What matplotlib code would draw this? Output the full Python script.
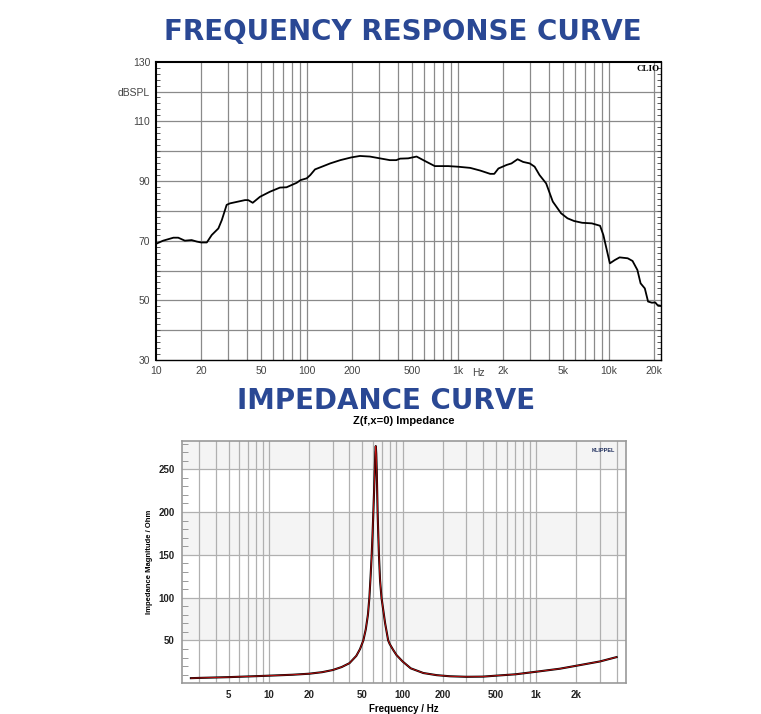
import numpy as np
import matplotlib
matplotlib.use("Agg")
import matplotlib.pyplot as plt
from matplotlib.transforms import blended_transform_factory

plt.rcParams['font.family'] = ['Liberation Sans', 'DejaVu Sans']

# frequency response (CLIO)
fr_freq = [10, 11.2, 13.1, 14.1, 15.6, 17.3, 18.7, 20, 21.8, 23.5, 26, 27.4, 29.5, 31,
           34.4, 39, 41, 43.9, 49, 57, 66.5, 73.5, 85.8, 91, 100, 105.6, 113.5, 129,
           143, 167, 197, 225, 262, 305, 355, 392, 415, 470, 534, 562, 607, 705, 865,
           1000, 1210, 1410, 1640, 1745, 1860, 2110, 2270, 2490, 2710, 3000, 3230,
           3480, 3850, 4260, 4830, 5330, 5890, 6660, 7730, 8760, 9210, 10170, 10960,
           11800, 13350, 14370, 15470, 16250, 17330, 18210, 19320, 20310, 21030, 22000]
fr_spl = [68.9, 70, 71, 71, 70, 70.2, 69.7, 69.4, 69.4, 71.9, 74.1, 76.9, 82, 82.5,
          83, 83.6, 83.6, 82.7, 84.7, 86.4, 87.8, 87.9, 89.4, 90.3, 90.9, 92, 93.9, 95,
          95.9, 97, 97.9, 98.4, 98.2, 97.6, 97, 97, 97.5, 97.6, 98.2, 97.6, 96.7, 95, 95,
          94.8, 94.4, 93.5, 92.4, 92.4, 94.2, 95.4, 95.9, 97.3, 96.4, 95.9, 94.8,
          92, 89.2, 83.1, 79.2, 77.5, 76.6, 76, 75.8, 75, 71.9, 62.4, 63.5,
          64.4, 64.1, 63.2, 60.2, 55.7, 54, 49.6, 49.2, 49.3, 48.4, 48.2]

fr_xticks = [10, 20, 50, 100, 200, 500, 1000, 2000, 5000, 10000, 20000]
fr_xlabels = ['10', '20', '50', '100', '200', '500', '1k', '2k', '5k', '10k', '20k']
fr_yticks = [30, 50, 70, 90, 110, 120, 130]
fr_ylabels = ['30', '50', '70', '90', '110', 'dBSPL', '130']

# impedance (Klippel)
z_freq = [2.6, 3, 4, 5, 7, 10, 15, 20, 25, 30, 35, 40, 45, 48, 50.8, 53, 55, 56.4,
          57.6, 58.7, 59.6, 60.4, 61.2, 61.9, 62.5, 63, 63.5, 64, 64.5, 65, 65.7,
          66.5, 67.8, 69.5, 74, 78, 80, 85, 90, 100, 115, 143, 180, 226, 300, 400,
          500, 700, 1000, 1500, 2000, 3000, 4000]
z_mag = [6.0, 6.3, 6.8, 7.2, 8.0, 8.9, 10.0, 11.2, 13.0, 15.5, 19.0, 23.5, 32, 40,
         50, 63, 80, 100, 125, 150, 175, 200, 225, 250, 270, 277, 268, 250, 225, 200,
         175, 150, 120, 100, 70, 50, 46, 39, 33, 25.5, 17.5, 12, 9.5, 8.2, 7.6, 7.8,
         8.9, 10.5, 13.5, 17, 20.5, 25.5, 30.6]

z_xticks = [5, 10, 20, 50, 100, 200, 500, 1000, 2000]
z_xlabels = ['5', '10', '20', '50', '100', '200', '500', '1k', '2k']
z_yticks = [50, 100, 150, 200, 250]

title_blue = '#2a4894'

fig = plt.figure(figsize=(7.61, 7.14), dpi=100)

fig.text(0.529, 0.955, 'FREQUENCY RESPONSE CURVE', ha='center', va='center',
         fontsize=20, fontweight='bold', color=title_blue, family='DejaVu Sans')
fig.text(0.507, 0.438, 'IMPEDANCE CURVE', ha='center', va='center',
         fontsize=20, fontweight='bold', color=title_blue, family='DejaVu Sans')

# ---- frequency response ----
ax1 = fig.add_axes([0.2046, 0.4958, 0.6636, 0.4178])
ax1.set_xscale('log')
ax1.set_xlim(10, 22080)
ax1.set_ylim(30, 130)
grid_f = [m * 10 ** d for d in range(1, 5) for m in range(1, 10)]
for g in grid_f:
    if 10 < g <= 20000:
        ax1.axvline(g, color='#8a8a8a', lw=0.9, zorder=1)
for g in range(40, 130, 10):
    ax1.axhline(g, color='#8a8a8a', lw=0.9, zorder=1)
ax1.plot(fr_freq, fr_spl, color='black', lw=1.3, zorder=3)
ax1.set_xticks(fr_xticks)
ax1.set_xticklabels(fr_xlabels)
ax1.set_xticks([], minor=True)
ax1.set_yticks(fr_yticks)
ax1.set_yticklabels(fr_ylabels)
ax1.set_yticks(np.arange(30, 131, 2), minor=True)
ax1.tick_params(axis='both', which='major', length=0, labelsize=7.5, labelcolor='#444444', pad=4)
ax1.tick_params(axis='y', which='minor', direction='in', length=3, left=True, right=True,
                color='#555555', width=0.7)
for s in ['left', 'top']:
    ax1.spines[s].set_linewidth(1.5)
for s in ['right', 'bottom']:
    ax1.spines[s].set_linewidth(1.0)
trans = blended_transform_factory(ax1.transData, ax1.transAxes)
ax1.text(1370, -0.028, 'Hz', transform=trans, ha='center', va='top', fontsize=7.5, color='#444444')
ax1.text(0.997, 0.99, 'CLIO', transform=ax1.transAxes, ha='right', va='top',
         fontsize=6.5, fontweight='bold', family=['Liberation Serif', 'DejaVu Serif'])

# ---- impedance ----
ax2 = fig.add_axes([0.2388, 0.0430, 0.5834, 0.3394])
ax2.set_xscale('log')
ax2.set_xlim(2.22, 4680)
ax2.set_ylim(0, 283)
for lo in [50, 150, 250]:
    ax2.axhspan(lo, lo + 50, color='#f4f4f4', zorder=0, lw=0)
grid_z = [m * 10 ** d for d in range(0, 4) for m in range(1, 10)]
for g in grid_z:
    if 2.22 < g < 4680:
        ax2.axvline(g, color='#b0b0b0', lw=0.9, zorder=1)
for g in z_yticks:
    ax2.axhline(g, color='#b0b0b0', lw=0.9, zorder=1)
ax2.plot(z_freq, z_mag, color='black', lw=1.5, zorder=3)
ax2.plot(z_freq, z_mag, color='#d01010', lw=0.6, zorder=4)
ax2.set_xticks(z_xticks)
ax2.set_xticklabels(z_xlabels)
ax2.set_xticks([], minor=True)
ax2.set_yticks(z_yticks)
ax2.set_yticks(np.arange(10, 283, 10), minor=True)
ax2.tick_params(axis='both', which='major', length=0, labelsize=7, pad=5)
ax2.tick_params(axis='y', which='minor', direction='in', length=4, color='#999999', width=0.7)
for lab in ax2.get_xticklabels() + ax2.get_yticklabels():
    lab.set_fontweight('bold')
    lab.set_color('#222222')
for s in ax2.spines.values():
    s.set_color('#999999')
    s.set_linewidth(1.2)
ax2.set_title('Z(f,x=0) Impedance', fontsize=8, fontweight='bold', pad=12)
ax2.set_xlabel('Frequency / Hz', fontsize=7, fontweight='bold', labelpad=3)
ax2.set_ylabel('Impedance Magnitude / Ohm', fontsize=5.5, fontweight='bold', labelpad=4)
ax2.text(0.975, 0.97, 'KLIPPEL', transform=ax2.transAxes, ha='right', va='top',
         fontsize=4, fontweight='bold', color='#1e2d5c')

fig.savefig('out.png', dpi=100)
